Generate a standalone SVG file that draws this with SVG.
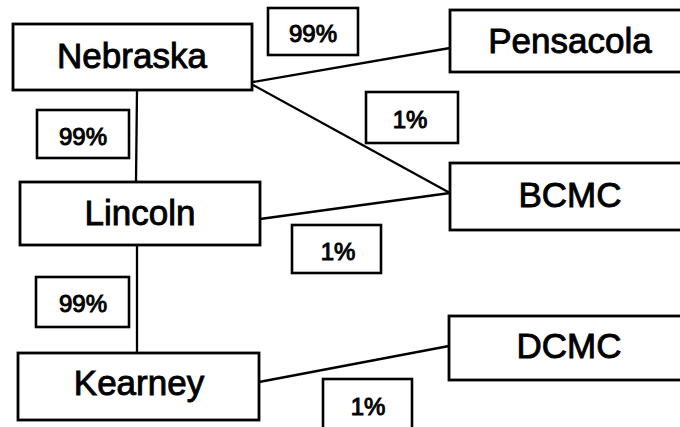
<svg xmlns="http://www.w3.org/2000/svg" width="680" height="427" viewBox="0 0 680 427">
<style>
.box{fill:#fff;stroke:#000;stroke-width:2.8}
.lbl{fill:#fff;stroke:#000;stroke-width:2.6}
.t{font-family:"Liberation Sans",Arial,sans-serif;font-size:35px;fill:#000;stroke:#000;stroke-width:0.9;text-anchor:middle}
.p{font-family:"Liberation Sans",Arial,sans-serif;font-size:24px;fill:#000;stroke:#000;stroke-width:1;text-anchor:middle}
.c{stroke:#000;stroke-width:2.3;fill:none}
</style>
<rect width="680" height="427" fill="#fff"/>
<g id="connectors">
<line class="c" x1="137" y1="90" x2="136" y2="182"/>
<line class="c" x1="137" y1="245" x2="137" y2="353"/>
<line class="c" x1="253" y1="82" x2="450" y2="48"/>
<line class="c" x1="253" y1="85" x2="450" y2="193"/>
<line class="c" x1="260" y1="219" x2="450" y2="193"/>
<line class="c" x1="259" y1="382" x2="449" y2="346"/>
</g>
<g id="label-99-top"><rect class="lbl" x="268" y="8" width="90" height="47"/><text class="p" x="313" y="42">99%</text></g>
<g id="label-99-left1"><rect class="lbl" x="37" y="110" width="92" height="48"/><text class="p" x="83" y="145">99%</text></g>
<g id="label-99-left2"><rect class="lbl" x="36" y="277" width="93" height="50"/><text class="p" x="83" y="312">99%</text></g>
<g id="label-1-upper"><rect class="lbl" x="366" y="92" width="92" height="51"/><text class="p" x="410" y="128">1%</text></g>
<g id="label-1-mid"><rect class="lbl" x="292" y="225" width="89" height="48"/><text class="p" x="338" y="260">1%</text></g>
<g id="label-1-bottom"><rect class="lbl" x="323" y="379" width="89" height="60"/><text class="p" x="368" y="415">1%</text></g>
<g id="nebraska"><rect class="box" x="13" y="24" width="239" height="66"/><text class="t" x="132" y="68">Nebraska</text></g>
<g id="lincoln"><rect class="box" x="20" y="182" width="240" height="63"/><text class="t" x="140" y="225">Lincoln</text></g>
<g id="kearney"><rect class="box" x="18" y="353" width="241" height="67"/><text class="t" x="139" y="395">Kearney</text></g>
<g id="pensacola"><rect class="box" x="450" y="10" width="240" height="62"/><text class="t" x="570" y="53">Pensacola</text></g>
<g id="bcmc"><rect class="box" x="450" y="163" width="240" height="67"/><text class="t" x="570" y="207">BCMC</text></g>
<g id="dcmc"><rect class="box" x="449" y="316" width="240" height="64"/><text class="t" x="569" y="358">DCMC</text></g>
</svg>
